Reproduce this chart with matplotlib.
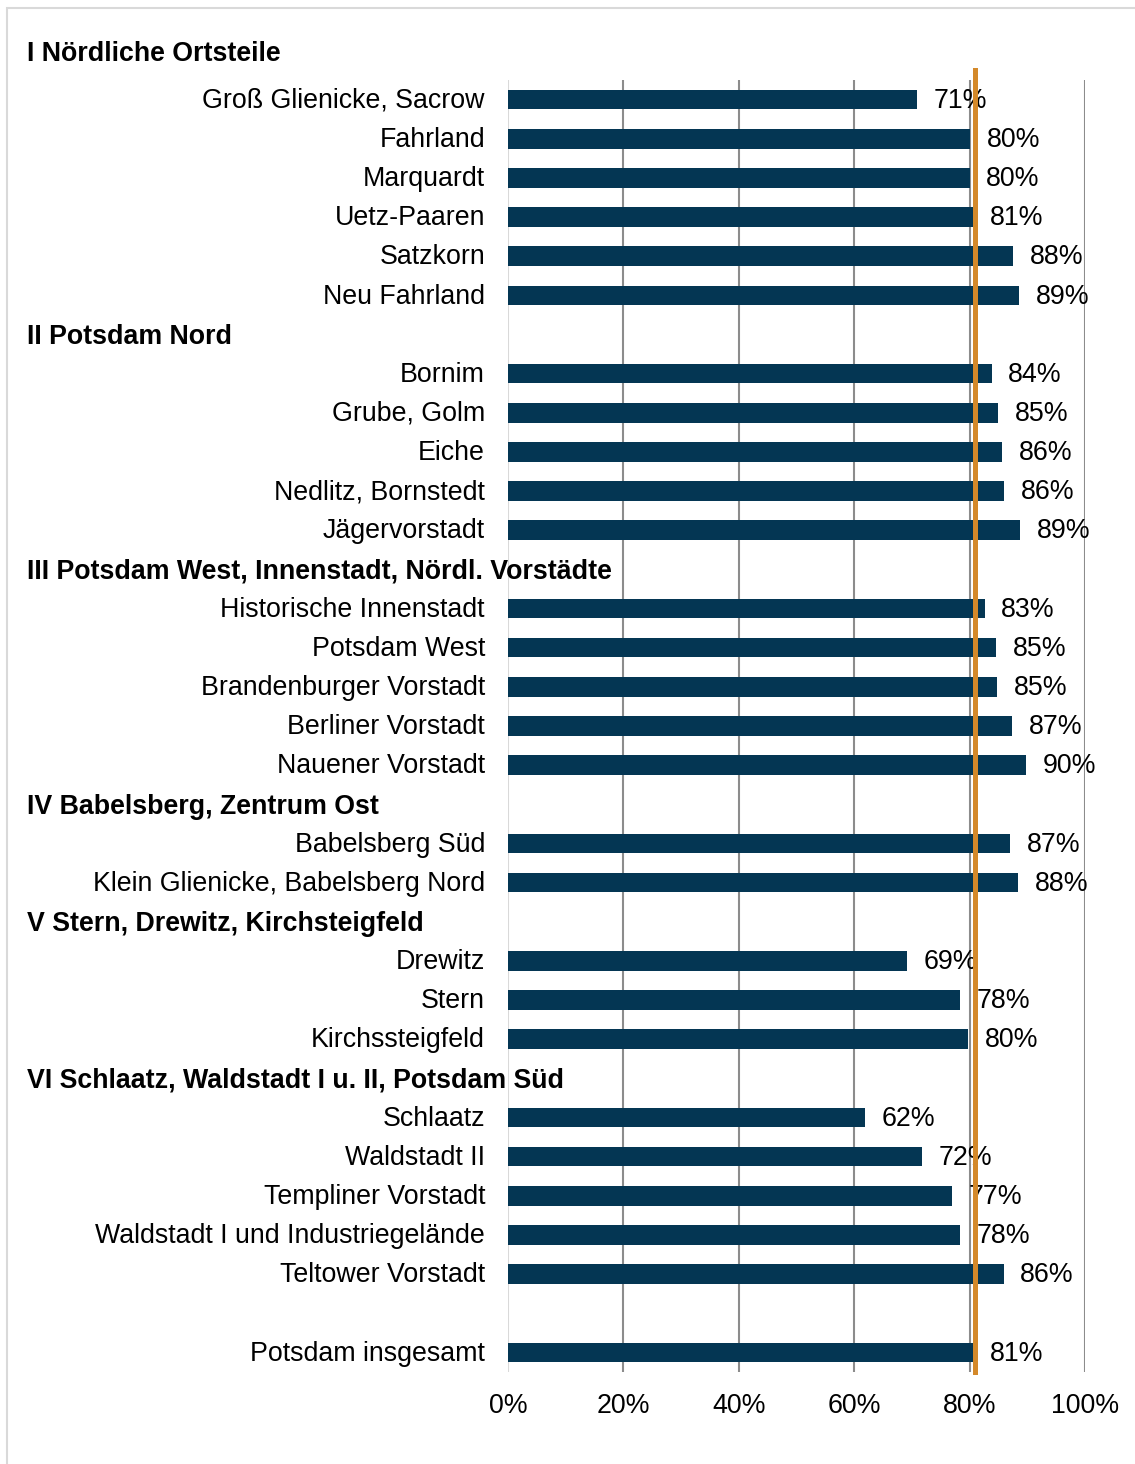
import matplotlib.pyplot as plt
import matplotlib.transforms as mtransforms
from matplotlib.patches import Rectangle

plt.rcParams['font.family'] = ['Liberation Sans', 'DejaVu Sans']

# --- data ---
group_names = [
    "I Nördliche Ortsteile",
    "II Potsdam Nord",
    "III Potsdam West, Innenstadt, Nördl. Vorstädte",
    "IV Babelsberg, Zentrum Ost",
    "V Stern, Drewitz, Kirchsteigfeld",
    "VI Schlaatz, Waldstadt I u. II, Potsdam Süd",
]
group_districts = [
    ["Groß Glienicke, Sacrow", "Fahrland", "Marquardt", "Uetz-Paaren", "Satzkorn", "Neu Fahrland"],
    ["Bornim", "Grube, Golm", "Eiche", "Nedlitz, Bornstedt", "Jägervorstadt"],
    ["Historische Innenstadt", "Potsdam West", "Brandenburger Vorstadt", "Berliner Vorstadt", "Nauener Vorstadt"],
    ["Babelsberg Süd", "Klein Glienicke, Babelsberg Nord"],
    ["Drewitz", "Stern", "Kirchssteigfeld"],
    ["Schlaatz", "Waldstadt II", "Templiner Vorstadt", "Waldstadt I und Industriegelände", "Teltower Vorstadt"],
]
group_values = [
    [70.9, 80.1, 80.0, 80.6, 87.6, 88.6],
    [83.8, 85.0, 85.6, 86.0, 88.7],
    [82.6, 84.6, 84.8, 87.4, 89.8],
    [87.0, 88.4],
    [69.2, 78.4, 79.8],
    [61.9, 71.7, 77.0, 78.4, 85.9],
]
total_label = "Potsdam insgesamt"
total_value = 80.6
avg_line = 80.9

# build the row list: header rows, district rows, a blank row, then the total
rows = []  # (label, value, is_header)
for name, districts, values in zip(group_names, group_districts, group_values):
    rows.append((name, None, True))
    for d, v in zip(districts, values):
        rows.append((d, v, False))
rows.append(("", None, False))
rows.append((total_label, total_value, False))

W, H = 1135, 1464
fig = plt.figure(figsize=(W / 100, H / 100), dpi=100)
ax = fig.add_axes([508 / W, 1 - 1372 / H, (1085 - 508) / W, (1372 - 80) / H])

bar_color = '#043653'
fs = 19.3

ypos = list(range(len(rows)))
for y, (label, val, is_header) in zip(ypos, rows):
    if val is not None:
        ax.barh(y, val, height=0.5, color=bar_color, zorder=2)
        ax.annotate(f"{val:.0f}%", (val, y + 0.03), xytext=(12, 0), textcoords='offset points',
                    ha='left', va='center', fontsize=fs, color='black', zorder=3)

ax.set_xlim(0, 100)
ax.set_ylim(len(rows) - 0.5, 0.5)

# category labels (right aligned) and group headers (bold, left aligned)
trans = mtransforms.blended_transform_factory(fig.transFigure, ax.transData)
for y, (label, val, is_header) in zip(ypos, rows):
    if is_header:
        yy = y - 0.17 if y == 0 else y + 0.06
        ax.text(27 / W, yy, label, transform=trans, ha='left', va='center',
                fontsize=fs, fontweight='bold', clip_on=False)
    elif label:
        ax.text(485 / W, y + 0.03, label, transform=trans, ha='right', va='center',
                fontsize=fs, clip_on=False)

ax.set_yticks([])
ax.set_xticks(range(0, 101, 20))
ax.set_xticklabels([f"{t}%" for t in range(0, 101, 20)], fontsize=fs)
ax.tick_params(axis='x', length=0, pad=15)
for s in ax.spines.values():
    s.set_visible(False)
for t in range(20, 101, 20):
    ax.axvline(t, color='#8c8c8c', lw=1.5, zorder=1)
ax.axvline(0, color='#d9d9d9', lw=1.5, zorder=1)

# average line drawn over bars and labels
ax.axvline(avg_line, ymin=0, ymax=1.008, color='#d4892a', lw=3.6, zorder=5, clip_on=False)

# light frame around the figure
fig.patches.append(Rectangle((7 / W, -0.05), 1.1, 1 - 8 / H + 0.05, transform=fig.transFigure,
                             fill=False, edgecolor='#d9d9d9', lw=1.5))

fig.savefig('out.png', dpi=100)
